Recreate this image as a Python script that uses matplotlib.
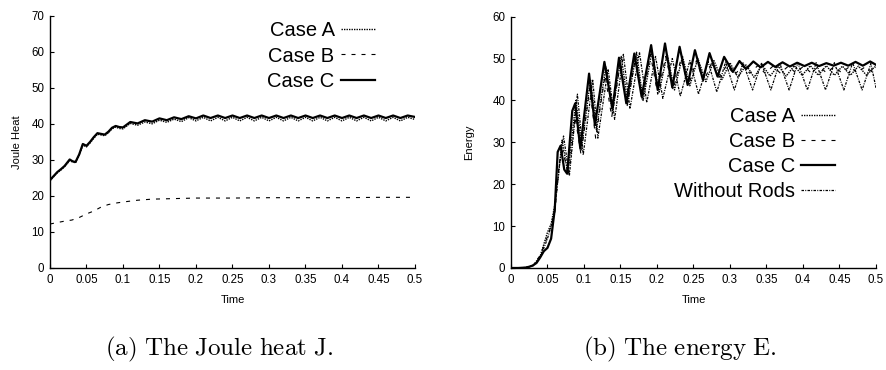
import matplotlib
matplotlib.use("Agg")
import matplotlib.pyplot as plt

plt.rcParams['font.family'] = ['Liberation Sans', 'DejaVu Sans']
plt.rcParams['mathtext.fontset'] = 'cm'

# ---------------- Left panel: Joule heat ----------------
jt = [0, 0.005, 0.01, 0.015, 0.02, 0.027, 0.031, 0.035, 0.04, 0.045, 0.05, 0.055,
      0.06, 0.065, 0.07, 0.075, 0.08, 0.085, 0.09, 0.095, 0.1,
      0.11, 0.12, 0.13, 0.14, 0.15, 0.16, 0.17, 0.18, 0.19, 0.2,
      0.21, 0.22, 0.23, 0.24, 0.25, 0.26, 0.27, 0.28, 0.29, 0.3,
      0.31, 0.32, 0.33, 0.34, 0.35, 0.36, 0.37, 0.38, 0.39, 0.4,
      0.41, 0.42, 0.43, 0.44, 0.45, 0.46, 0.47, 0.48, 0.49, 0.5]
joule_c = [24.4, 25.5, 26.6, 27.4, 28.3, 30.1, 29.6, 29.4, 31.5, 34.4, 33.9, 35.0,
           36.3, 37.4, 37.2, 37.0, 37.8, 38.9, 39.4, 39.1, 39.0,
           40.5, 40.1, 41.0, 40.6, 41.5, 41.0, 41.8, 41.3, 42.1, 41.5,
           42.3, 41.6, 42.3, 41.6, 42.3, 41.6, 42.3, 41.6, 42.3, 41.6,
           42.3, 41.6, 42.3, 41.6, 42.3, 41.6, 42.3, 41.6, 42.3, 41.6,
           42.3, 41.6, 42.3, 41.6, 42.3, 41.6, 42.3, 41.6, 42.3, 41.9]
joule_a = [24.2, 25.3, 26.4, 27.2, 28.1, 29.8, 29.4, 29.2, 31.2, 34.1, 33.6, 34.7,
           36.0, 37.1, 36.9, 36.7, 37.5, 38.6, 39.1, 38.7, 38.6,
           40.1, 39.6, 40.5, 40.0, 41.0, 40.4, 41.3, 40.6, 41.7, 40.8,
           41.8, 40.8, 41.8, 40.8, 41.8, 40.8, 41.8, 40.8, 41.8, 40.8,
           41.8, 40.8, 41.8, 40.8, 41.8, 40.8, 41.8, 40.8, 41.8, 40.8,
           41.8, 40.8, 41.8, 40.8, 41.8, 40.8, 41.8, 40.8, 41.8, 41.2]
jt_b = [0, 0.01, 0.02, 0.03, 0.04, 0.05, 0.06, 0.07, 0.08, 0.09, 0.1, 0.12, 0.14,
        0.16, 0.2, 0.25, 0.3, 0.35, 0.4, 0.45, 0.5]
joule_b = [12.2, 12.6, 13.0, 13.3, 14.0, 15.0, 15.8, 16.9, 17.6, 18.0, 18.3, 18.8,
           19.1, 19.2, 19.4, 19.4, 19.5, 19.5, 19.5, 19.6, 19.6]

# ---------------- Right panel: Energy ----------------
et_c = [0, 0.01, 0.02, 0.025, 0.03, 0.035, 0.04, 0.045, 0.05, 0.055, 0.06, 0.064,
        0.068, 0.073, 0.077, 0.084, 0.088, 0.095, 0.107, 0.115, 0.128, 0.139, 0.148,
        0.158, 0.169, 0.179, 0.192, 0.201, 0.211, 0.221, 0.231, 0.242, 0.252, 0.263,
        0.272, 0.283, 0.292, 0.304, 0.313, 0.322, 0.332, 0.342, 0.352, 0.362, 0.372,
        0.382, 0.392, 0.402, 0.412, 0.422, 0.432, 0.442, 0.452, 0.462, 0.472, 0.482,
        0.492, 0.5]
energy_c = [0, 0, 0.1, 0.3, 0.6, 1.2, 2.5, 4.0, 4.8, 7.0, 14.0, 27.7,
            29.2, 23.5, 22.5, 37.5, 39.3, 28.5, 46.4, 34.1, 49.2, 38.0, 50.2,
            39.3, 51.2, 40.9, 53.2, 42.5, 53.6, 43.1, 52.8, 43.7, 52.0, 44.9,
            51.3, 45.7, 50.4, 46.8, 49.4, 47.5, 49.3, 47.9, 49.2, 48.0, 49.1,
            48.1, 49.0, 48.2, 49.0, 48.2, 48.9, 48.3, 49.0, 48.3, 49.2, 48.3,
            49.3, 48.5]

et_a = [0, 0.02, 0.03, 0.04, 0.05, 0.055, 0.06, 0.065, 0.07, 0.078, 0.089, 0.097,
        0.109, 0.117, 0.13, 0.139, 0.151, 0.16, 0.172, 0.181, 0.193, 0.203, 0.214,
        0.224, 0.235, 0.245, 0.256, 0.267, 0.278, 0.289, 0.3, 0.311, 0.322, 0.333,
        0.344, 0.355, 0.366, 0.377, 0.388, 0.399, 0.41, 0.421, 0.432, 0.443, 0.454,
        0.465, 0.476, 0.487, 0.498, 0.5]
energy_a = [0, 0.1, 0.5, 2.8, 8.5, 10.5, 15.0, 22.0, 30.5, 22.5, 40.0, 29.0,
            45.0, 33.0, 48.0, 37.0, 50.5, 39.5, 51.5, 40.0, 51.5, 42.0, 51.0,
            42.5, 50.5, 43.5, 50.0, 44.5, 49.5, 45.0, 49.0, 45.5, 48.5, 45.5,
            48.5, 45.8, 48.3, 45.8, 48.3, 46.0, 48.3, 46.0, 48.3, 46.0, 48.2,
            46.0, 48.2, 46.0, 48.0, 47.8]

et_b = [0, 0.02, 0.03, 0.04, 0.05, 0.055, 0.06, 0.066, 0.071, 0.079, 0.088, 0.096,
        0.108, 0.116, 0.129, 0.138, 0.15, 0.159, 0.171, 0.18, 0.191, 0.201, 0.212,
        0.222, 0.233, 0.243, 0.254, 0.264, 0.275, 0.285, 0.296, 0.306, 0.317, 0.327,
        0.338, 0.348, 0.359, 0.369, 0.38, 0.39, 0.401, 0.411, 0.422, 0.432, 0.443,
        0.453, 0.464, 0.474, 0.485, 0.495, 0.5]
energy_b = [0, 0.1, 0.6, 3.0, 7.5, 10.0, 13.0, 25.0, 28.0, 22.0, 36.0, 27.0,
            43.0, 31.0, 46.0, 36.0, 49.0, 38.5, 50.5, 40.0, 51.0, 41.5, 50.5,
            42.5, 50.0, 43.5, 49.5, 44.5, 49.0, 45.5, 48.5, 46.0, 48.3, 46.5,
            48.3, 46.5, 48.2, 46.5, 48.2, 46.6, 48.2, 46.6, 48.2, 46.6, 48.1,
            46.6, 48.1, 46.6, 48.0, 46.8, 47.5]

et_w = [0, 0.02, 0.03, 0.04, 0.05, 0.055, 0.06, 0.066, 0.072, 0.08, 0.091, 0.099,
        0.112, 0.119, 0.133, 0.142, 0.154, 0.163, 0.176, 0.186, 0.198, 0.208, 0.221,
        0.232, 0.245, 0.257, 0.27, 0.282, 0.294, 0.306, 0.318, 0.331, 0.343, 0.356,
        0.368, 0.381, 0.393, 0.406, 0.418, 0.431, 0.443, 0.456, 0.468, 0.481, 0.493,
        0.5]
energy_w = [0, 0.1, 0.5, 2.5, 7.0, 10.0, 14.0, 24.0, 31.5, 22.0, 41.5, 27.0,
            45.0, 31.0, 47.5, 35.5, 51.0, 38.0, 51.5, 39.5, 50.5, 40.5, 50.0,
            41.0, 49.5, 41.5, 49.3, 42.0, 49.2, 42.5, 49.0, 42.5, 49.0, 42.5,
            49.0, 42.5, 49.0, 42.5, 49.0, 42.5, 49.0, 42.5, 49.0, 42.5, 48.8,
            43.0]

xticks = [0, 0.05, 0.1, 0.15, 0.2, 0.25, 0.3, 0.35, 0.4, 0.45, 0.5]
xticklabels = ['0', '0.05', '0.1', '0.15', '0.2', '0.25', '0.3', '0.35', '0.4', '0.45', '0.5']

fig = plt.figure(figsize=(8.86, 3.70), dpi=100)
ax1 = fig.add_axes([0.0564, 0.2757, 0.412, 0.682])
ax2 = fig.add_axes([0.5767, 0.2757, 0.412, 0.6793])

dotted = (0, (1.0, 0.8))
dashed = (0, (3.6, 5.4))
dashdot = (0, (2.0, 1.0, 0.8, 1.0))

ax1.plot(jt, joule_a, color='black', lw=1.0, linestyle=dotted, label='Case A')
ax1.plot(jt_b, joule_b, color='black', lw=0.8, linestyle=dashed, label='Case B')
ax1.plot(jt, joule_c, color='black', lw=1.6, linestyle='-', label='Case C')
ax1.set_ylim(0, 70)
ax1.set_yticks([0, 10, 20, 30, 40, 50, 60, 70])
ax1.set_ylabel('Joule Heat', fontsize=8, labelpad=7)

ax2.plot(et_a, energy_a, color='black', lw=1.0, linestyle=dotted, label='Case A')
ax2.plot(et_b, energy_b, color='black', lw=0.8, linestyle=dashed, label='Case B')
ax2.plot(et_c, energy_c, color='black', lw=1.6, linestyle='-', label='Case C')
ax2.plot(et_w, energy_w, color='black', lw=0.9, linestyle=dashdot, label='Without Rods')
ax2.set_ylim(0, 60)
ax2.set_yticks([0, 10, 20, 30, 40, 50, 60])
ax2.set_ylabel('Energy', fontsize=8, labelpad=13)

for ax in (ax1, ax2):
    ax.set_xlim(0, 0.5)
    ax.set_xticks(xticks)
    ax.set_xticklabels(xticklabels)
    ax.set_xlabel('Time', fontsize=8, labelpad=7)
    ax.spines['top'].set_visible(False)
    ax.spines['right'].set_visible(False)
    ax.spines['left'].set_linewidth(1.0)
    ax.spines['bottom'].set_linewidth(1.0)
    ax.tick_params(direction='in', length=3, width=0.8, labelsize=8.3, pad=4)

leg_kw = dict(frameon=False, markerfirst=False, fontsize=14.5, handlelength=1.7,
              handletextpad=0.3, labelspacing=0.3, borderpad=0, borderaxespad=0)
ax1.legend(loc='center right', bbox_to_anchor=(0.89, 0.84), **leg_kw)
ax2.legend(loc='center right', bbox_to_anchor=(0.888, 0.455), **leg_kw)

fig.text(0.247, 0.055, r'$\mathrm{(a)\ The\ Joule\ heat\ J.}$', ha='center', va='center', fontsize=18)
fig.text(0.7675, 0.055, r'$\mathrm{(b)\ The\ energy\ E.}$', ha='center', va='center', fontsize=18)

fig.savefig('out.png', dpi=100)
